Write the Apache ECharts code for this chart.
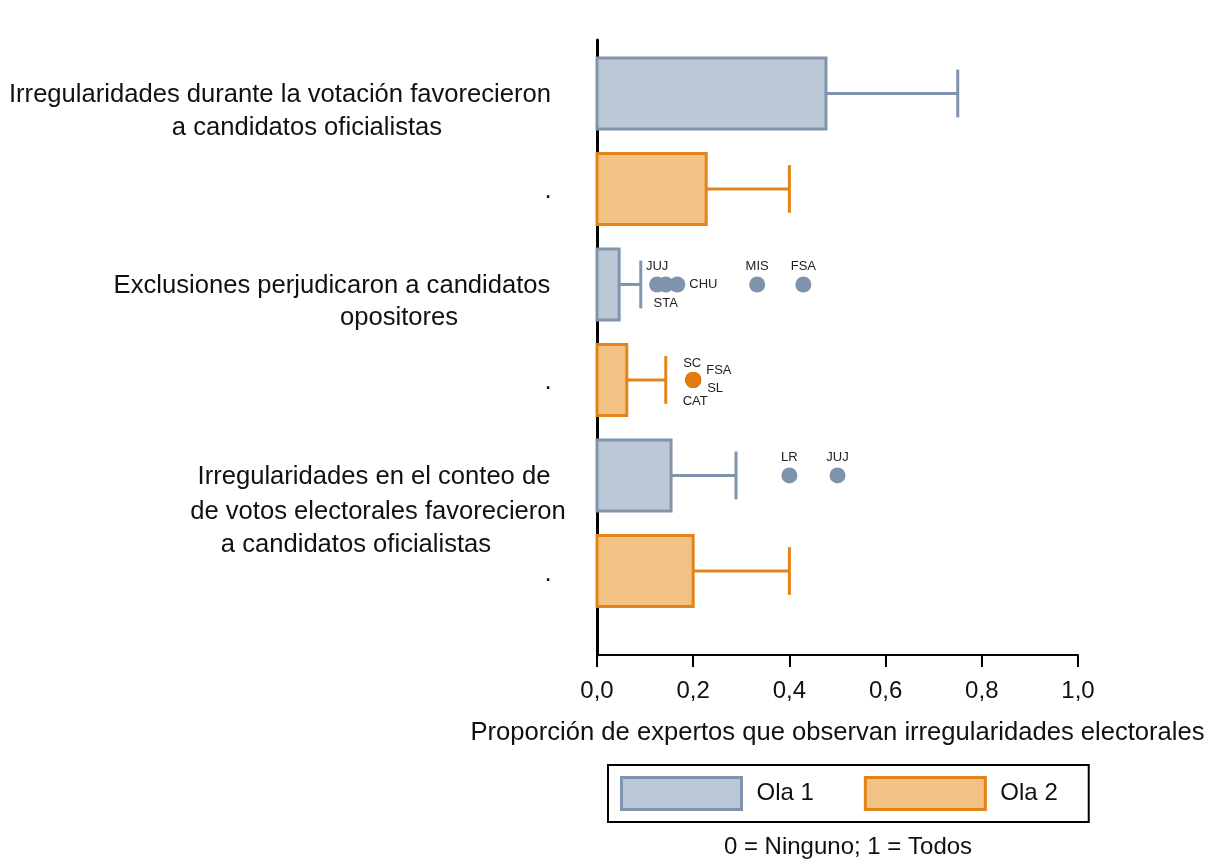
<!DOCTYPE html>
<html>
<head>
<meta charset="utf-8">
<script src="https://cdn.jsdelivr.net/npm/echarts@6/dist/echarts.min.js"></script>
<style>
  html, body { margin: 0; padding: 0; background: #fff; }
  #chart { width: 1213px; height: 860px; }
</style>
</head>
<body>
<div id="chart"></div>
<script>
// category labels, one entry per row (top to bottom)
const categories = [
  ["Irregularidades durante la votación favorecieron", "a candidatos oficialistas"],
  ["."],
  ["Exclusiones perjudicaron a candidatos", "opositores"],
  ["."],
  ["Irregularidades en el conteo de", "de votos electorales favorecieron", "a candidatos oficialistas"],
  ["."]
]

// Ola 1 (rows 0, 2, 4)
const ola1Rows = [0, 2, 4]
const ola1Values = [0.476, 0.046, 0.154]
const ola1Upper = [0.75, 0.091, 0.289]

// Ola 2 (rows 1, 3, 5)
const ola2Rows = [1, 3, 5]
const ola2Values = [0.227, 0.062, 0.2]
const ola2Upper = [0.4, 0.143, 0.4]

// outliers
const ola1OutRows = [2, 2, 2, 2, 2, 4, 4]
const ola1OutValues = [0.125, 0.143, 0.167, 0.333, 0.429, 0.4, 0.5]
const ola1OutNames = ["JUJ", "STA", "CHU", "MIS", "FSA", "LR", "JUJ"]

const ola2OutRows = [3, 3, 3, 3]
const ola2OutValues = [0.2, 0.2, 0.2, 0.2]
const ola2OutNames = ["SC", "FSA", "SL", "CAT"]

const xTicks = [0, 0.2, 0.4, 0.6, 0.8, 1.0]

// label layout (style only)
const labelLines = [
  [[280, 95], [307, 128]],
  [[548, 191]],
  [[332, 286], [399, 318]],
  [[548, 382]],
  [[374, 477], [378, 512], [356, 545]],
  [[548, 574]]
]
const ola1LabelPos = ["top", "bottom", "right", "top", "top", "top", "top"]
const ola2LabelPos = [
  { position: "top", offset: [-1, 2] },
  { position: "right", offset: [1, -10] },
  { position: "right", offset: [2, 8] },
  { position: "bottom", offset: [2, 3] }
]

const c1 = { fill: "#bcc8d6", stroke: "#8095ad", dot: "#7f93ad" }
const c2 = { fill: "#f2c184", stroke: "#e2841a", dot: "#e07b10" }
const font = "Arial, 'Liberation Sans', sans-serif"
const half = 0.3725

const boxRender = (col) => (params, api) => {
  const row = api.value(0)
  const v = api.value(1)
  const up = api.value(2)
  const p0 = api.coord([0, row - half])
  const p1 = api.coord([v, row + half])
  const w0 = api.coord([v, row])
  const w1 = api.coord([up, row])
  const capT = api.coord([up, row - 0.25])
  const capB = api.coord([up, row + 0.25])
  return {
    type: "group",
    children: [
      { type: "line", shape: { x1: w0[0], y1: w0[1], x2: w1[0], y2: w1[1] },
        style: { stroke: col.stroke, lineWidth: 3 } },
      { type: "line", shape: { x1: capT[0], y1: capT[1], x2: capB[0], y2: capB[1] },
        style: { stroke: col.stroke, lineWidth: 3 } },
      { type: "rect", shape: { x: p0[0], y: p0[1], width: p1[0] - p0[0], height: p1[1] - p0[1] },
        style: { fill: col.fill, stroke: col.stroke, lineWidth: 3 } }
    ]
  }
}

const graphics = []
categories.forEach((lines, i) => {
  lines.forEach((t, j) => {
    const pos = labelLines[i][j]
    graphics.push({
      type: "text", x: pos[0], y: pos[1],
      style: { text: t, fill: "#111", font: "25.6px " + font, textAlign: "center", textVerticalAlign: "middle" }
    })
  })
})
graphics.push({
  type: "text", x: 848, y: 847,
  style: { text: "0 = Ninguno; 1 = Todos", fill: "#111", font: "24px " + font, textAlign: "center", textVerticalAlign: "middle" }
})

const option = {
  backgroundColor: "#fff",
  animation: false,
  grid: { left: 597, right: 135, top: 40, bottom: 205 },
  xAxis: {
    type: "value",
    min: 0,
    max: 1,
    interval: 0.2,
    name: "Proporción de expertos que observan irregularidades electorales",
    nameLocation: "middle",
    nameGap: 65,
    nameTextStyle: { fontSize: 25.6, color: "#111", fontFamily: font },
    axisLine: { onZero: false, lineStyle: { color: "#000", width: 2 } },
    axisTick: { show: true, length: 12, lineStyle: { color: "#000", width: 2 } },
    axisLabel: {
      margin: 24, fontSize: 24, color: "#111", fontFamily: font,
      formatter: (v) => (xTicks.includes(+v.toFixed(1)) ? v.toFixed(1).replace(".", ",") : "")
    },
    splitLine: { show: false }
  },
  yAxis: {
    type: "value",
    inverse: true,
    min: -0.56,
    max: 5.88,
    axisLine: { show: true, onZero: false, lineStyle: { color: "#000", width: 3 } },
    axisTick: { show: false },
    axisLabel: { show: false },
    splitLine: { show: false }
  },
  legend: {
    left: 608,
    top: 765,
    padding: [11, 31, 11, 12],
    itemWidth: 120,
    itemHeight: 32,
    itemGap: 50,
    borderColor: "#000",
    borderWidth: 2,
    textStyle: { fontSize: 24, color: "#111", fontFamily: font, padding: [0, 0, 0, 10] },
    data: [
      { name: "Ola 1", icon: "rect", itemStyle: { color: c1.fill, borderColor: c1.stroke, borderWidth: 3 } },
      { name: "Ola 2", icon: "rect", itemStyle: { color: c2.fill, borderColor: c2.stroke, borderWidth: 3 } }
    ]
  },
  graphic: graphics,
  series: [
    {
      name: "Ola 1",
      type: "custom",
      renderItem: boxRender(c1),
      itemStyle: { color: c1.fill, borderColor: c1.stroke },
      encode: { x: [1, 2], y: 0 },
      data: ola1Rows.map((r, i) => [r, ola1Values[i], ola1Upper[i]])
    },
    {
      name: "Ola 2",
      type: "custom",
      renderItem: boxRender(c2),
      itemStyle: { color: c2.fill, borderColor: c2.stroke },
      encode: { x: [1, 2], y: 0 },
      data: ola2Rows.map((r, i) => [r, ola2Values[i], ola2Upper[i]])
    },
    {
      name: "out1",
      type: "scatter",
      symbolSize: 16,
      itemStyle: { color: c1.dot, opacity: 1 },
      data: ola1OutRows.map((r, i) => ({
        value: [ola1OutValues[i], r],
        label: { show: true, position: ola1LabelPos[i], formatter: ola1OutNames[i],
          fontSize: 13, color: "#222", fontFamily: font, distance: 4 }
      }))
    },
    {
      name: "out2",
      type: "scatter",
      symbolSize: 16,
      itemStyle: { color: c2.dot, opacity: 1 },
      data: ola2OutRows.map((r, i) => ({
        value: [ola2OutValues[i], r],
        label: { show: true, position: ola2LabelPos[i].position, offset: ola2LabelPos[i].offset,
          formatter: ola2OutNames[i], fontSize: 13, color: "#222", fontFamily: font, distance: 4 }
      }))
    }
  ]
}

const chart = echarts.init(document.getElementById("chart"))
chart.setOption(option)
window.addEventListener("resize", () => {
  chart.resize()
})
</script>
</body>
</html>
